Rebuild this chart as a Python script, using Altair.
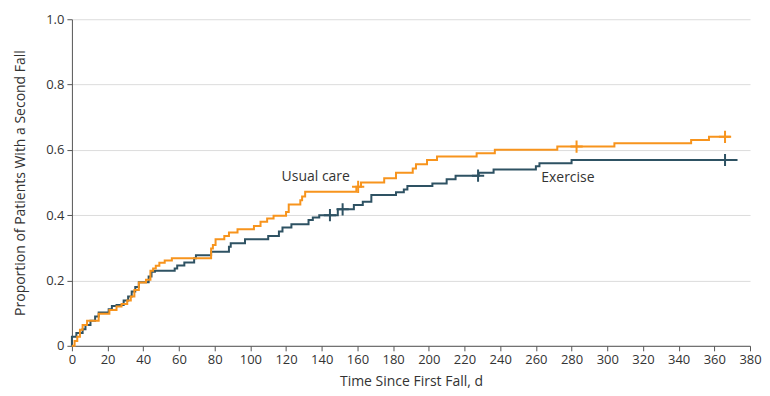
import altair as alt
import pandas as pd

# Kaplan-Meier style step data (day, cumulative proportion)
ex_days = [0, 0, 2.5, 6, 7.6, 10.4, 13, 15, 20.6, 22.4, 25, 29, 31.5, 33.5, 35.5, 37.5, 43, 44.6, 46.5,
           57.6, 59, 63, 68.5, 69.5, 78, 88, 89, 97, 110, 116, 118, 123, 132.6, 135, 138.6, 149, 158, 163,
           167.8, 181.6, 186, 188, 202, 210, 215, 228, 236.3, 260, 262, 280, 373]
ex_prop = [0, 0.028, 0.039, 0.051, 0.064, 0.077, 0.09, 0.102, 0.112, 0.122, 0.125, 0.139, 0.151, 0.166, 0.18,
           0.195, 0.212, 0.227, 0.230, 0.237, 0.246, 0.255, 0.268, 0.277, 0.288, 0.303, 0.314, 0.326, 0.336,
           0.35, 0.362, 0.372, 0.385, 0.393, 0.40, 0.418, 0.431, 0.441, 0.462, 0.47, 0.479, 0.489, 0.497,
           0.510, 0.521, 0.530, 0.540, 0.55, 0.559, 0.569, 0.569]

uc_days = [0, 1.5, 3, 4.5, 6, 8.5, 15, 21, 25, 27.8, 31, 33, 35, 37.5, 41.5, 44, 45.5, 47, 49, 52, 56, 78,
           79, 80.5, 85.4, 88, 92.8, 102, 105.7, 109.4, 113, 120, 121.5, 128, 129, 130.7, 159.4, 162, 175,
           181.6, 191, 192.8, 199, 204.6, 226.8, 237, 272, 304, 347, 357, 369]
uc_prop = [0, 0.015, 0.028, 0.049, 0.064, 0.077, 0.098, 0.11, 0.12, 0.128, 0.139, 0.151, 0.171, 0.194, 0.202,
           0.230, 0.237, 0.245, 0.254, 0.261, 0.268, 0.298, 0.309, 0.326, 0.336, 0.347, 0.357, 0.367, 0.38,
           0.39, 0.398, 0.41, 0.433, 0.446, 0.457, 0.472, 0.487, 0.500, 0.513, 0.530, 0.543, 0.556, 0.569,
           0.58, 0.59, 0.60, 0.61, 0.62, 0.63, 0.64, 0.64]

ex_cens_days = [144.6, 151.7, 227.6, 366]
ex_cens_prop = [0.40, 0.418, 0.521, 0.569]
uc_cens_days = [160.4, 282.8, 366]
uc_cens_prop = [0.487, 0.61, 0.64]

groups = ["Exercise", "Usual care"]
colors = ["#2E5263", "#F7941D"]

label_text = ["Usual care", "Exercise"]
label_day = [117.5, 263]
label_prop = [0.517, 0.514]

x_ticks = list(range(0, 381, 20))
y_ticks = [0, 0.2, 0.4, 0.6, 0.8, 1.0]

lines = pd.concat([
    pd.DataFrame({"day": ex_days, "prop": ex_prop, "group": "Exercise", "order": range(len(ex_days))}),
    pd.DataFrame({"day": uc_days, "prop": uc_prop, "group": "Usual care", "order": range(len(uc_days))}),
])
cens = pd.concat([
    pd.DataFrame({"day": ex_cens_days, "prop": ex_cens_prop, "group": "Exercise"}),
    pd.DataFrame({"day": uc_cens_days, "prop": uc_cens_prop, "group": "Usual care"}),
])
labels = pd.DataFrame({"text": label_text, "day": label_day, "prop": label_prop})

FONT = "Open Sans"

xscale = alt.Scale(domain=[0, 380], nice=False)
yscale = alt.Scale(domain=[0, 1], nice=False)
cscale = alt.Scale(domain=groups, range=colors)

x_axis = alt.Axis(values=x_ticks, grid=False, title="Time Since First Fall, d",
                  labelOverlap=False, labelFlush=False, labelFontSize=13, titleFontSize=14,
                  titleFontWeight="normal", labelFont=FONT, titleFont=FONT, labelColor="#333",
                  titleColor="#333", domainColor="#555", tickColor="#555", tickSize=5,
                  labelPadding=3, titlePadding=8)
y_axis = alt.Axis(values=y_ticks, grid=True, gridColor="#dcdcdc",
                  title="Proportion of Patients With a Second Fall",
                  labelExpr="datum.value == 0 ? '0' : format(datum.value, '.1f')",
                  labelOverlap=False, labelFlush=False, labelFontSize=13, titleFontSize=14,
                  titleFontWeight="normal", labelFont=FONT, titleFont=FONT, labelColor="#333",
                  titleColor="#333", domainColor="#555", tickColor="#555", tickSize=5,
                  labelPadding=3, titlePadding=18)

X = alt.X("day:Q", scale=xscale, axis=x_axis)
Y = alt.Y("prop:Q", scale=yscale, axis=y_axis)

line_chart = alt.Chart(lines).mark_line(interpolate="step-after", strokeWidth=2).encode(
    x=X, y=Y,
    color=alt.Color("group:N", scale=cscale, legend=None, sort=groups),
    order="order:Q",
)

cens_chart = alt.Chart(cens).mark_point(
    shape="M-1,0L1,0M0,-1L0,1", filled=False, size=150, strokeWidth=2, opacity=1
).encode(
    x=X, y=Y,
    color=alt.Color("group:N", scale=cscale, legend=None),
)

label_chart = alt.Chart(labels).mark_text(
    align="left", baseline="middle", fontSize=14, font=FONT, color="#333"
).encode(
    x=X, y=Y,
    text="text:N",
)

chart = alt.layer(line_chart, cens_chart, label_chart).properties(
    width=679, height=327,
    padding={"left": 5, "top": 5, "right": 0, "bottom": 5},
).configure_view(stroke=None).configure_axis(labelOverlap=False, labelFlush=False)

chart.save("out.html", embed_options={"renderer": "svg", "actions": False})
